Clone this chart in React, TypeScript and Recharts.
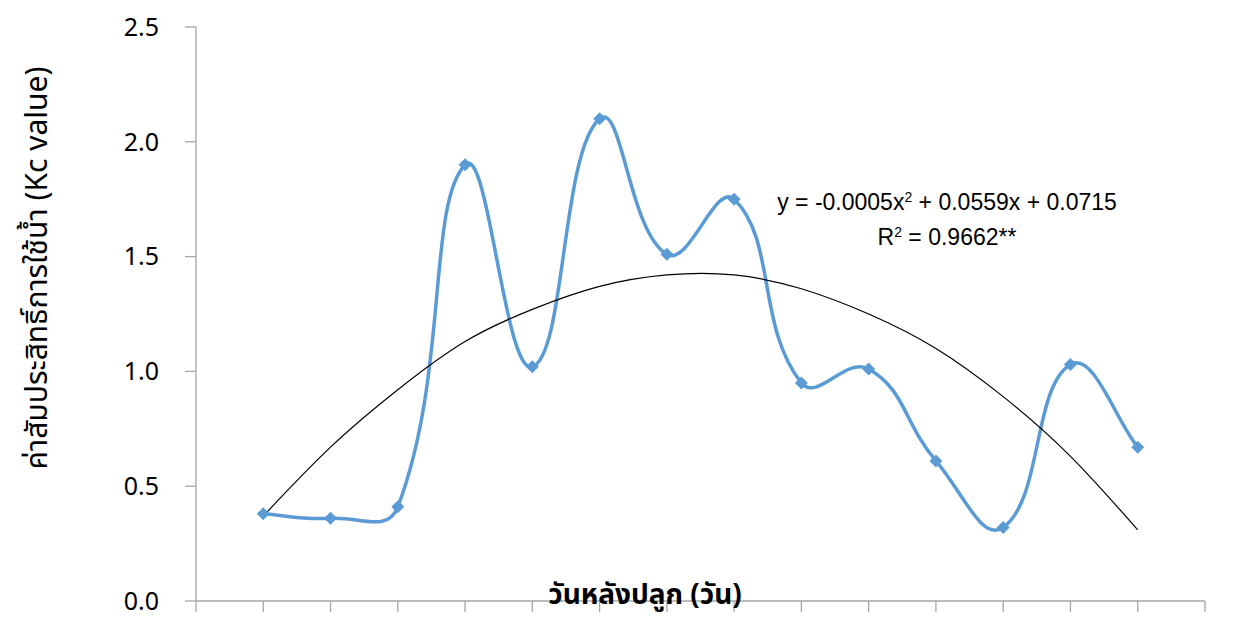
import { ComposedChart, Line, XAxis, YAxis } from 'recharts'

// sampling positions along the category axis (1..14), axis spans 0..15
const xPos = [1, 2, 3, 4, 5, 6, 7, 8, 9, 10, 11, 12, 13, 14]
const kcValues = [0.38, 0.36, 0.41, 1.90, 1.02, 2.10, 1.51, 1.75, 0.95, 1.01, 0.61, 0.32, 1.03, 0.67]
const trendValues = [0.37, 0.67, 0.92, 1.13, 1.27, 1.37, 1.42, 1.42, 1.36, 1.25, 1.10, 0.89, 0.63, 0.31]
const yTicks = [0, 0.5, 1.0, 1.5, 2.0, 2.5]
const xTicks = [0, 1, 2, 3, 4, 5, 6, 7, 8, 9, 10, 11, 12, 13, 14, 15]

const data = xPos.map((x, i) => ({ x, kc: kcValues[i], trend: trendValues[i] }))

const BLUE = '#5B9BD5'
const AXIS = '#A6A6A6'
const FONT = '"Noto Sans Thai", Tahoma, "Liberation Sans", "DejaVu Sans", sans-serif'

// Excel-like smoothed line: bezier segments with chord-weighted tangents
const smoothCurve = (ctx: any) => {
  let pts: [number, number][] = []
  return {
    areaStart() {},
    areaEnd() {},
    lineStart() { pts = [] },
    point(x: number, y: number) { pts.push([+x, +y]) },
    lineEnd() {
      if (!pts.length) return
      const f = 0.45
      const dist = (a: number[], b: number[]) => Math.hypot(b[0] - a[0], b[1] - a[1]) || 1
      ctx.moveTo(pts[0][0], pts[0][1])
      for (let i = 0; i < pts.length - 1; i++) {
        const p0 = pts[Math.max(i - 1, 0)]
        const p1 = pts[i]
        const p2 = pts[i + 1]
        const p3 = pts[Math.min(i + 2, pts.length - 1)]
        const d01 = dist(p0, p1), d12 = dist(p1, p2), d23 = dist(p2, p3)
        const s1 = i === 0 ? 1 / 3 : (d12 / (d01 + d12)) * f
        const s2 = i + 2 > pts.length - 1 ? 1 / 3 : (d12 / (d12 + d23)) * f
        ctx.bezierCurveTo(
          p1[0] + (p2[0] - p0[0]) * s1, p1[1] + (p2[1] - p0[1]) * s1,
          p2[0] - (p3[0] - p1[0]) * s2, p2[1] - (p3[1] - p1[1]) * s2,
          p2[0], p2[1],
        )
      }
    },
  }
}

const Diamond = (props: any) => {
  const { cx, cy } = props
  if (cx == null || cy == null) return null
  const r = 6.5
  return <path d={`M${cx},${cy - r}L${cx + r},${cy}L${cx},${cy + r}L${cx - r},${cy}Z`} fill={BLUE} />
}

export default function App() {
  return (
    <div style={{ position: 'relative', width: 1231, height: 610, fontFamily: FONT }}>
      <ComposedChart
        width={1231}
        height={610}
        data={data}
        margin={{ top: 19, right: 34, bottom: 0, left: 0 }}
        style={{ overflow: 'visible' }}
      >
        <XAxis
          type="number"
          dataKey="x"
          domain={[0, 15]}
          ticks={xTicks}
          tickFormatter={() => ''}
          tick={{ fontSize: 1 }}
          interval={0}
          height={17}
          tickSize={11}
          stroke={AXIS}
          axisLine={{ stroke: AXIS, strokeWidth: 1.3 }}
          tickLine={{ stroke: AXIS, strokeWidth: 1.3 }}
        />
        <YAxis
          domain={[0, 2.5]}
          ticks={yTicks}
          width={188}
          tickSize={11}
          tickMargin={26}
          tickFormatter={(v: number) => v.toFixed(1)}
          tick={{ fill: '#000', fontSize: 25, fontFamily: FONT }}
          axisLine={{ stroke: AXIS, strokeWidth: 1.3 }}
          tickLine={{ stroke: AXIS, strokeWidth: 1.3 }}
        />
        <Line
          dataKey="kc"
          type={smoothCurve as any}
          stroke={BLUE}
          strokeWidth={3.5}
          dot={<Diamond />}
          activeDot={false}
          isAnimationActive={false}
        />
        <Line
          dataKey="trend"
          type="natural"
          stroke="#000"
          strokeWidth={1.2}
          dot={false}
          activeDot={false}
          isAnimationActive={false}
        />
      </ComposedChart>
      <div style={{ position: 'absolute', left: 30, top: 260, width: 0, height: 0 }}>
        <div
          style={{
            position: 'absolute', left: 0, top: 0, transform: 'translate(-50%, -50%) rotate(-90deg)',
            whiteSpace: 'nowrap', fontSize: 30, color: '#000', lineHeight: 1,
          }}
        >
          ค่าสัมประสิทธิ์การใช้น้ำ (Kc value)
        </div>
      </div>
      <div
        style={{
          position: 'absolute', left: 637, top: 588, transform: 'translate(-50%, -50%)',
          whiteSpace: 'nowrap', fontSize: 28, fontWeight: 'bold', color: '#000', lineHeight: 1,
        }}
      >
        วันหลังปลูก (วัน)
      </div>
      <div
        style={{
          position: 'absolute', left: 939, top: 174, transform: 'translateX(-50%)',
          textAlign: 'center', whiteSpace: 'nowrap', fontSize: 23, color: '#000', lineHeight: '30px',
          fontFamily: '"Liberation Sans", sans-serif',
        }}
      >
        <div>y = -0.0005x<sup style={{ fontSize: 14, verticalAlign: 8 }}>2</sup> + 0.0559x + 0.0715</div>
        <div>R<sup style={{ fontSize: 14, verticalAlign: 8 }}>2</sup> = 0.9662**</div>
      </div>
    </div>
  )
}
